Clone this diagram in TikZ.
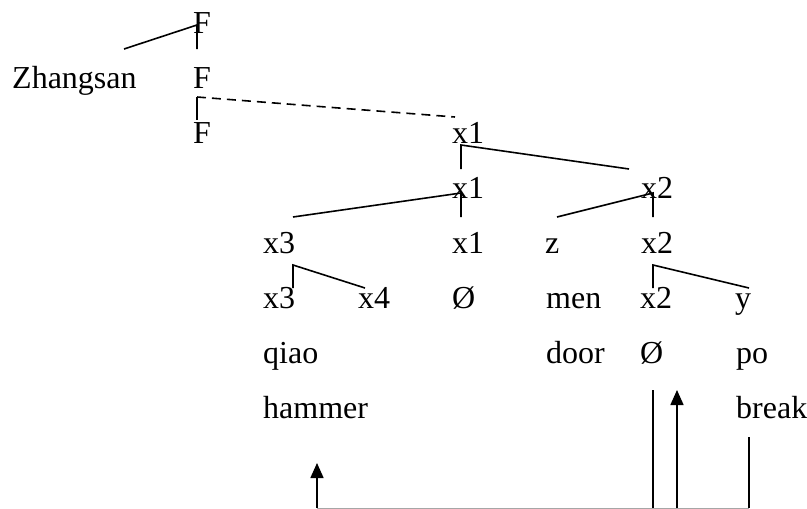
\documentclass[tikz,border=0pt]{standalone}
\usepackage{fontspec}
\setmainfont{Liberation Serif}
\usetikzlibrary{arrows.meta}

\begin{document}
\begin{tikzpicture}[x=1pt, y=-1pt,
  lbl/.style={anchor=base west, inner sep=0pt, font=\fontsize{32}{38}\selectfont},
  br/.style={line width=1.6pt},
  dsh/.style={line width=1.6pt, dash pattern=on 9pt off 6pt},
  arr/.style={line width=1.6pt, -{Triangle[length=15pt, width=13pt]}},
  baseline/.style={line width=1pt, gray!70}
]
  \useasboundingbox (0,0) rectangle (807,509);

  \node[lbl] (F1) at (193,33) {F};
  \node[lbl] (zhangsan) at (12,88) {Zhangsan};
  \node[lbl] (F2) at (193,88) {F};
  \node[lbl] (F3) at (193,143) {F};
  \node[lbl] (x1a) at (452,143) {x1};
  \node[lbl] (x1b) at (452,198) {x1};
  \node[lbl] (x2a) at (641,198) {x2};
  \node[lbl] (x3a) at (263,253) {x3};
  \node[lbl] (x1c) at (452,253) {x1};
  \node[lbl] (z) at (545,253) {z};
  \node[lbl] (x2b) at (641,253) {x2};
  \node[lbl] (x3b) at (263,308) {x3};
  \node[lbl] (x4) at (358,308) {x4};
  \node[lbl] (nullA) at (452,308) {Ø};
  \node[lbl] (men) at (546,308) {men};
  \node[lbl] (x2c) at (640,308) {x2};
  \node[lbl] (yy) at (735,308) {y};
  \node[lbl] (qiao) at (263,363) {qiao};
  \node[lbl] (door) at (546,363) {door};
  \node[lbl] (nullB) at (640,363) {Ø};
  \node[lbl] (po) at (736,363) {po};
  \node[lbl] (hammer) at (263,418) {hammer};
  \node[lbl] (break) at (736,418) {break};

  % bracket points
  \coordinate (fTop) at (197,25);   \coordinate (fBot) at (197,49);
  \coordinate (zTop) at (124,49);
  \coordinate (gTop) at (197,97);   \coordinate (gBot) at (197,120);
  \coordinate (dEnd) at (455,117);
  \coordinate (aTop) at (461,145);  \coordinate (aBot) at (461,169);
  \coordinate (aRt) at (629,169);
  \coordinate (bTop) at (461,193);  \coordinate (bBot) at (461,217);
  \coordinate (bLt) at (293,217);
  \coordinate (cTop) at (653,193);  \coordinate (cBot) at (653,217);
  \coordinate (cLt) at (557,217);
  \coordinate (eTop) at (293,265);  \coordinate (eBot) at (293,288);
  \coordinate (eRt) at (365,288);
  \coordinate (hTop) at (653,265);  \coordinate (hBot) at (653,288);
  \coordinate (hRt) at (749,288);

  \draw[br] (zTop) -- (fTop) -- (fBot);
  \draw[br] (gBot) -- (gTop);
  \draw[dsh] (gTop) -- (dEnd);
  \draw[br] (aBot) -- (aTop) -- (aRt);
  \draw[br] (bLt) -- (bTop) -- (bBot);
  \draw[br] (cLt) -- (cTop) -- (cBot);
  \draw[br] (eBot) -- (eTop) -- (eRt);
  \draw[br] (hBot) -- (hTop) -- (hRt);

  % links along the bottom
  \coordinate (p1) at (317,508);  \coordinate (p1t) at (317,463);
  \coordinate (p2) at (653,508);  \coordinate (p2t) at (653,390);
  \coordinate (p3) at (677,508);  \coordinate (p3t) at (677,390);
  \coordinate (p4) at (749,508);  \coordinate (p4t) at (749,437);

  \draw[baseline] (p1) -- (p4);
  \draw[br] (p2t) -- (p2);
  \draw[br] (p4t) -- (p4);
  \draw[arr] (p1) -- (p1t);
  \draw[arr] (p3) -- (p3t);
\end{tikzpicture}
\end{document}
